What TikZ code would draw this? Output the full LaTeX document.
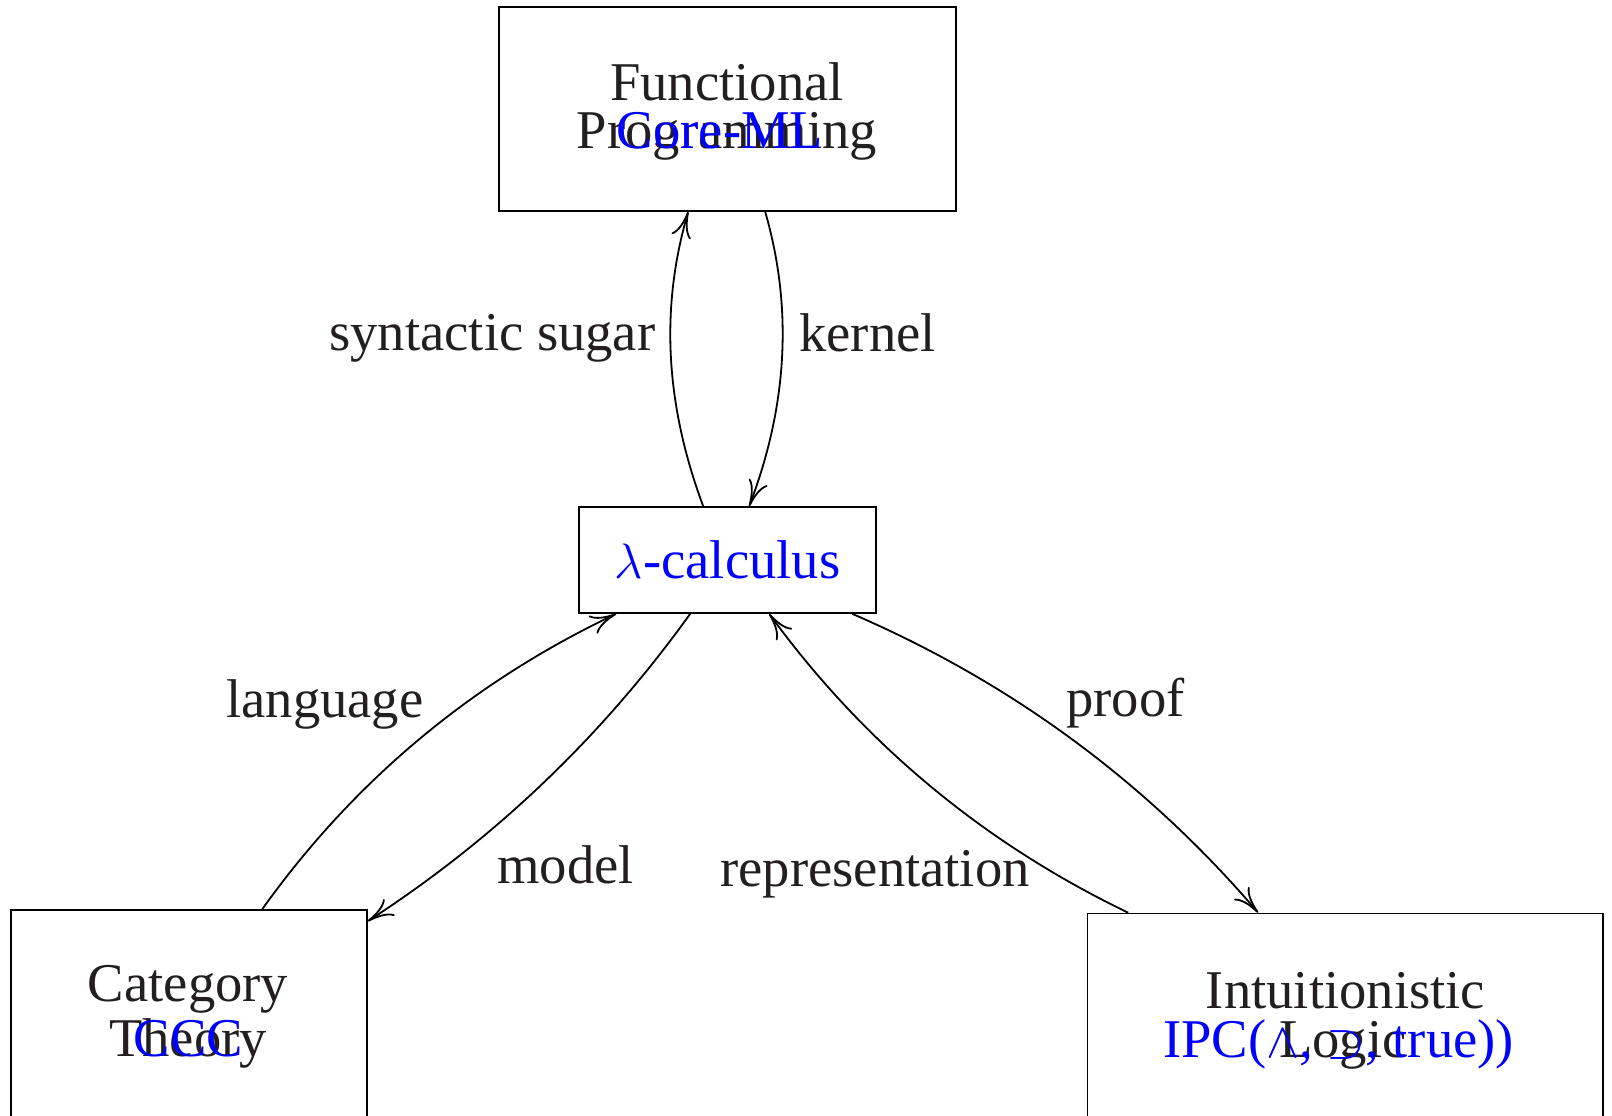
\documentclass[tikz,border=0pt]{standalone}
\usepackage{fontspec}
\setmainfont{Liberation Serif}
\usetikzlibrary{arrows.meta,calc}
\definecolor{txt}{RGB}{35,31,32}
\definecolor{bl}{RGB}{0,0,255}
\tikzset{
  lbl/.style={font=\fontsize{27.3pt}{32pt}\selectfont, text=txt, inner sep=0pt, anchor=base},
  blbl/.style={lbl, text=bl},
  elbl/.style={lbl, anchor=base west},
  box/.style={draw=black, line width=0.8pt, inner sep=0pt, fill=none},
  conn/.style={draw=black, line width=0.9pt, -{Computer Modern Rightarrow[length=13pt,width=10pt,line width=0.9pt]}},
}
\begin{document}
\begin{tikzpicture}[x=0.5pt,y=-0.5pt]
\useasboundingbox (0,0) rectangle (1612,1115);
% boxes
\node[box, minimum width=228.5pt, minimum height=102pt] (fp) at (727.5,109) {};
\node[box, minimum width=148.5pt, minimum height=53pt] (lam) at (727.5,560) {};
\node[box, minimum width=178pt, minimum height=110pt] (cat) at (189,1020) {};
\node[box, minimum width=257.75pt, minimum height=110.25pt] (il) at (1345.25,1023.75) {};
% texts
\node[lbl] (fp1) at (727,100) {Functional};
\node[lbl] (fp2) at (727,148) {Programming};
\node[blbl] (fp3) at (720,148) {Core-ML};
\node[blbl] (lam1) at (727.5,578) {$\lambda$-calculus};
\node[lbl] (cat1) at (188,1001.7) {Category};
\node[lbl] (cat2) at (188,1056.7) {Theory};
\node[blbl] (cat3) at (188.3,1056.7) {CCC};
\node[lbl] (il1) at (1345.5,1008) {Intuitionistic};
\node[lbl] (il2) at (1343,1057) {Logic};
\node[blbl] (il3) at (1338.5,1057) {IPC($\wedge$, $\supset$, true))};
% edge labels
\node[elbl] (l1) at (329,350) {syntactic sugar};
\node[elbl] (l2) at (799,351) {kernel};
\node[elbl] (l3) at (226,717) {language};
\node[elbl] (l4) at (497,883) {model};
\node[elbl] (l5) at (720,886) {representation};
\node[elbl] (l6) at (1066,716) {proof};
% connectors
\draw[conn] ([xshift=62.5pt]lam.north west) .. controls +(-38,-102) and +(-28,96) .. ([xshift=95pt]fp.south west);
\draw[conn] ([xshift=133.5pt]fp.south west) .. controls +(28,97) and +(38,-100) .. ([xshift=85.5pt]lam.north west);
\draw[conn] ([xshift=126pt]cat.north west) .. controls +(93,-130) and +(-143,68) .. ([xshift=19pt]lam.south west);
\draw[conn] ([xshift=56pt]lam.south west) .. controls +(-88.7,123.3) and +(127.3,-82.7) .. ([yshift=-6pt]cat.north east);
\draw[conn] ([xshift=20.75pt]il.north west) .. controls +(-144.7,-69.7) and +(94.7,129.7) .. ([xshift=95.5pt]lam.south west);
\draw[conn] ([xshift=137pt]lam.south west) .. controls +(158.4,68.3) and +(-112.2,-131.1) .. ([xshift=85.75pt]il.north west);
\end{tikzpicture}
\end{document}
